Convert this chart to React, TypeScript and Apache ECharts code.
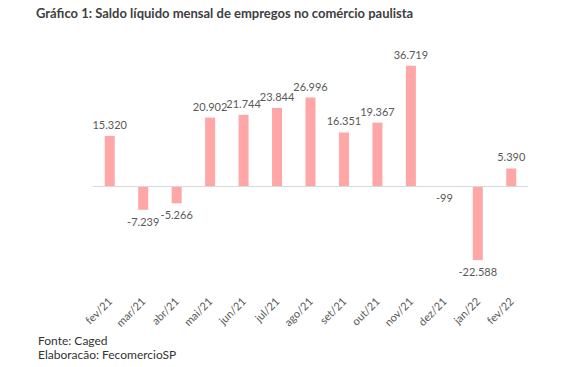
import React, { useEffect, useRef } from "react";
import * as echarts from "echarts";

const categories = ["fev/21", "mar/21", "abr/21", "mai/21", "jun/21", "jul/21", "ago/21", "set/21", "out/21", "nov/21", "dez/21", "jan/22", "fev/22"];
const values = [15320, -7239, -5266, 20902, 21744, 23844, 26996, 16351, 19367, 36719, -99, -22588, 5390];
const titleText = "Gráfico 1: Saldo líquido mensal de empregos no comércio paulista";
const sourceLines = ["Fonte: Caged", "Elaboração: FecomercioSP"];

const fmt = (v: number) => {
  const s = Math.abs(v).toString().replace(/\B(?=(\d{3})+(?!\d))/g, ".");
  return (v < 0 ? "-" : "") + s;
};

export default function App() {
  const ref = useRef<HTMLDivElement>(null);
  useEffect(() => {
    const chart = echarts.init(ref.current!, null, { renderer: "svg" });
    const font = "Lato, 'Open Sans', sans-serif";
    chart.setOption({
      animation: false,
      backgroundColor: "#ffffff",
      grid: { left: 93, right: 39, top: 55, height: 213 },
      xAxis: {
        type: "category",
        data: categories,
        axisLine: { show: false, onZero: false },
        axisTick: { show: false },
        axisLabel: { rotate: 45, margin: 31, color: "#595959", fontSize: 11, fontFamily: font, interval: 0 },
      },
      yAxis: {
        type: "value",
        min: -25000,
        max: 40000,
        show: false,
        splitLine: { show: false },
      },
      graphic: [
        {
          type: "text",
          x: 36,
          y: 13,
          style: { text: titleText, font: `bold 13px ${font}`, fill: "#404040", verticalAlign: "middle" },
        },
        {
          type: "text",
          x: 38,
          y: 340,
          style: { text: sourceLines[0], font: `12px ${font}`, fill: "#333333", verticalAlign: "middle" },
        },
        {
          type: "text",
          x: 38,
          y: 354,
          style: { text: sourceLines[1], font: `12px ${font}`, fill: "#333333", verticalAlign: "middle" },
        },
      ],
      series: [
        {
          type: "bar",
          barWidth: 10,
          itemStyle: { color: "#ffa6a6" },
          data: values.map((v) => ({
            value: v,
            label: { position: v < 0 ? "bottom" : "top" },
          })),
          label: {
            show: true,
            distance: 6,
            color: "#595959",
            fontSize: 11,
            fontFamily: font,
            formatter: (p: any) => fmt(p.value),
          },
          markLine: {
            silent: true,
            symbol: "none",
            label: { show: false },
            lineStyle: { color: "#d9d9d9", type: "solid", width: 1 },
            data: [{ yAxis: 0 }],
          },
        },
      ],
    });
    return () => chart.dispose();
  }, []);
  return <div ref={ref} style={{ width: 567, height: 367, margin: -8 }} />;
}
